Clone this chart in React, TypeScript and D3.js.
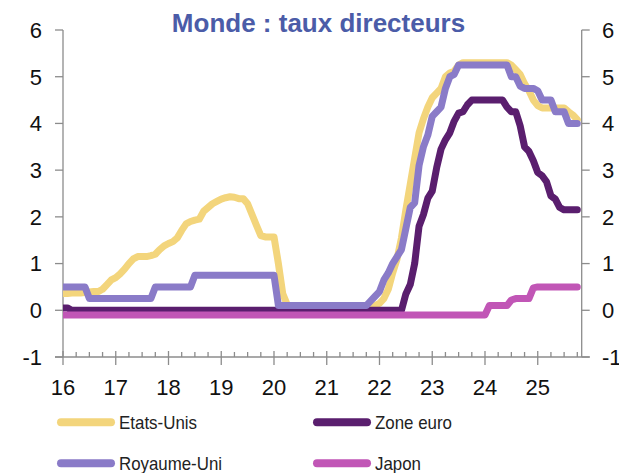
import React from 'react';
import * as d3 from 'd3';

const START_YEAR = 2016;
const yearLabels = ['16', '17', '18', '19', '20', '21', '22', '23', '24', '25'];
const yTickValues = [-1, 0, 1, 2, 3, 4, 5, 6];
const seriesNames = ['Etats-Unis', 'Zone euro', 'Royaume-Uni', 'Japon'];
const seriesColors = ['#f3d57c', '#5a1e6e', '#8a7bc8', '#c156b6'];

// Monthly values, Jan 2016 .. Oct 2025 (one row per year)
const etatsUnis = [
  0.36, 0.36, 0.37, 0.37, 0.37, 0.38, 0.39, 0.40, 0.40, 0.45, 0.55, 0.65,
  0.70, 0.78, 0.88, 1.00, 1.10, 1.15, 1.15, 1.15, 1.17, 1.20, 1.30, 1.38,
  1.43, 1.47, 1.55, 1.71, 1.85, 1.90, 1.93, 1.95, 2.12, 2.20, 2.28, 2.33,
  2.38, 2.41, 2.43, 2.42, 2.39, 2.39, 2.28, 2.05, 1.82, 1.60, 1.57, 1.57,
  1.57, 1.00, 0.35, 0.12, 0.08, 0.08, 0.08, 0.08, 0.08, 0.08, 0.08, 0.08,
  0.08, 0.08, 0.08, 0.08, 0.08, 0.08, 0.08, 0.08, 0.08, 0.08, 0.08, 0.10,
  0.15, 0.25, 0.45, 0.80, 1.10, 1.55, 2.15, 2.70, 3.25, 3.80, 4.10, 4.35,
  4.55, 4.65, 4.75, 5.00, 5.08, 5.12, 5.25, 5.30, 5.30, 5.30, 5.30, 5.30,
  5.30, 5.30, 5.30, 5.30, 5.30, 5.30, 5.25, 5.15, 5.05, 4.85, 4.70, 4.50,
  4.38, 4.33, 4.33, 4.33, 4.33, 4.33, 4.33, 4.25, 4.18, 4.08,
];

const zoneEuro = [
  0.05, 0.05, 0, 0, 0, 0, 0, 0, 0, 0, 0, 0,
  0, 0, 0, 0, 0, 0, 0, 0, 0, 0, 0, 0,
  0, 0, 0, 0, 0, 0, 0, 0, 0, 0, 0, 0,
  0, 0, 0, 0, 0, 0, 0, 0, 0, 0, 0, 0,
  0, 0, 0, 0, 0, 0, 0, 0, 0, 0, 0, 0,
  0, 0, 0, 0, 0, 0, 0, 0, 0, 0, 0, 0,
  0, 0, 0, 0, 0, 0, 0.35, 0.55, 1.00, 1.80, 2.05, 2.40,
  2.55, 3.05, 3.45, 3.65, 3.80, 4.05, 4.22, 4.25, 4.40, 4.50, 4.50, 4.50,
  4.50, 4.50, 4.50, 4.50, 4.50, 4.35, 4.25, 4.25, 3.95, 3.50, 3.40, 3.20,
  2.95, 2.88, 2.75, 2.45, 2.38, 2.20, 2.15, 2.15, 2.15, 2.15,
];

const royaumeUni = [
  0.50, 0.50, 0.50, 0.50, 0.50, 0.50, 0.25, 0.25, 0.25, 0.25, 0.25, 0.25,
  0.25, 0.25, 0.25, 0.25, 0.25, 0.25, 0.25, 0.25, 0.25, 0.50, 0.50, 0.50,
  0.50, 0.50, 0.50, 0.50, 0.50, 0.50, 0.75, 0.75, 0.75, 0.75, 0.75, 0.75,
  0.75, 0.75, 0.75, 0.75, 0.75, 0.75, 0.75, 0.75, 0.75, 0.75, 0.75, 0.75,
  0.75, 0.10, 0.10, 0.10, 0.10, 0.10, 0.10, 0.10, 0.10, 0.10, 0.10, 0.10,
  0.10, 0.10, 0.10, 0.10, 0.10, 0.10, 0.10, 0.10, 0.10, 0.10, 0.20, 0.30,
  0.40, 0.65, 0.80, 1.00, 1.15, 1.30, 1.75, 2.20, 2.30, 3.10, 3.50, 3.75,
  4.15, 4.25, 4.35, 4.75, 5.00, 5.05, 5.25, 5.25, 5.25, 5.25, 5.25, 5.25,
  5.25, 5.25, 5.25, 5.25, 5.25, 5.25, 5.00, 5.00, 4.80, 4.75, 4.75, 4.75,
  4.70, 4.50, 4.50, 4.50, 4.25, 4.25, 4.25, 4.00, 4.00, 4.00,
];

const japon = [
  -0.1, -0.1, -0.1, -0.1, -0.1, -0.1, -0.1, -0.1, -0.1, -0.1, -0.1, -0.1,
  -0.1, -0.1, -0.1, -0.1, -0.1, -0.1, -0.1, -0.1, -0.1, -0.1, -0.1, -0.1,
  -0.1, -0.1, -0.1, -0.1, -0.1, -0.1, -0.1, -0.1, -0.1, -0.1, -0.1, -0.1,
  -0.1, -0.1, -0.1, -0.1, -0.1, -0.1, -0.1, -0.1, -0.1, -0.1, -0.1, -0.1,
  -0.1, -0.1, -0.1, -0.1, -0.1, -0.1, -0.1, -0.1, -0.1, -0.1, -0.1, -0.1,
  -0.1, -0.1, -0.1, -0.1, -0.1, -0.1, -0.1, -0.1, -0.1, -0.1, -0.1, -0.1,
  -0.1, -0.1, -0.1, -0.1, -0.1, -0.1, -0.1, -0.1, -0.1, -0.1, -0.1, -0.1,
  -0.1, -0.1, -0.1, -0.1, -0.1, -0.1, -0.1, -0.1, -0.1, -0.1, -0.1, -0.1,
  -0.1, 0.10, 0.10, 0.10, 0.10, 0.10, 0.22, 0.25, 0.25, 0.25, 0.25, 0.48,
  0.50, 0.50, 0.50, 0.50, 0.50, 0.50, 0.50, 0.50, 0.50, 0.50,
];

const seriesValues = [etatsUnis, zoneEuro, royaumeUni, japon];

export default function App() {
  const W = 619;
  const H = 473;
  const left = 63;
  const right = 581.7;
  const top = 30;
  const bottom = 357;

  const x = d3.scaleLinear().domain([START_YEAR, START_YEAR + 118 / 12]).range([left, right]);
  const y = d3.scaleLinear().domain([-1, 6]).range([bottom, top]);

  const line = d3
    .line<number>()
    .x((_d, i) => x(START_YEAR + i / 12))
    .y((d) => y(d));

  const axisColor = '#8c8c8c';
  const font = 'Liberation Sans, Arial, sans-serif';

  const years = yearLabels.map((_, i) => START_YEAR + i);
  const quarters = d3.range(0, 40).map((q) => START_YEAR + q / 4).filter((t) => t % 1 !== 0 && x(t) <= right);

  const legendItems = [
    { idx: 0, lx: 57, ly: 422.3, tl: 78 },
    { idx: 1, lx: 313, ly: 422.3, tl: 77 },
    { idx: 2, lx: 57, ly: 463.3, tl: 103 },
    { idx: 3, lx: 313, ly: 463.3, tl: 46 },
  ];

  return (
    <svg
      width={W}
      height={H}
      style={{ position: 'absolute', left: 0, top: 0, background: '#fff' }}
      fontFamily={font}
    >
      <defs>
        <clipPath id="plotClip">
          <rect x={left} y={0} width={W - left} height={H} />
        </clipPath>
      </defs>

      <text x={318.5} y={32} textAnchor="middle" fontSize={26} fontWeight="bold" fill="#4b5ca8">
        Monde : taux directeurs
      </text>

      {/* axes */}
      <line x1={left} y1={top} x2={left} y2={bottom} stroke={axisColor} strokeWidth={1.3} />
      <line x1={right} y1={top} x2={right} y2={bottom} stroke={axisColor} strokeWidth={1.3} />
      <line x1={left - 8} y1={bottom} x2={right + 8} y2={bottom} stroke={axisColor} strokeWidth={1.3} />
      {yTickValues.map((v) => (
        <g key={'yt' + v}>
          <line x1={left - 8} x2={left} y1={y(v)} y2={y(v)} stroke={axisColor} strokeWidth={1.3} />
          <line x1={right} x2={right + 8} y1={y(v)} y2={y(v)} stroke={axisColor} strokeWidth={1.3} />
          <text x={42} y={y(v)} dy="0.36em" textAnchor="end" fontSize={22} fill="#111">
            {String(v)}
          </text>
          <text x={602} y={y(v)} dy="0.36em" textAnchor="start" fontSize={22} fill="#111">
            {String(v)}
          </text>
        </g>
      ))}
      {quarters.map((t) => (
        <line key={'q' + t} x1={x(t)} x2={x(t)} y1={bottom - 5} y2={bottom} stroke={axisColor} strokeWidth={1.3} />
      ))}
      {years.map((t, i) => (
        <g key={'yr' + t}>
          <line x1={x(t)} x2={x(t)} y1={bottom - 6} y2={bottom + 8} stroke={axisColor} strokeWidth={1.3} />
          <text x={x(t)} y={395} textAnchor="middle" fontSize={22} fill="#111">
            {yearLabels[i]}
          </text>
        </g>
      ))}

      {/* series */}
      <g clipPath="url(#plotClip)">
        {seriesValues.map((vals, si) => (
          <path
            key={seriesNames[si]}
            d={line(vals) || ''}
            fill="none"
            stroke={seriesColors[si]}
            strokeWidth={7}
            strokeLinejoin="round"
            strokeLinecap="round"
          />
        ))}
      </g>

      {/* legend */}
      {legendItems.map((it) => (
        <g key={'lg' + it.idx}>
          <line
            x1={it.lx + 4}
            x2={it.lx + 54}
            y1={it.ly}
            y2={it.ly}
            stroke={seriesColors[it.idx]}
            strokeWidth={8}
            strokeLinecap="round"
          />
          <text
            x={it.lx + 62}
            y={it.ly + 7}
            fontSize={19}
            fill="#222"
            textLength={it.tl}
            lengthAdjust="spacingAndGlyphs"
          >
            {seriesNames[it.idx]}
          </text>
        </g>
      ))}
    </svg>
  );
}
